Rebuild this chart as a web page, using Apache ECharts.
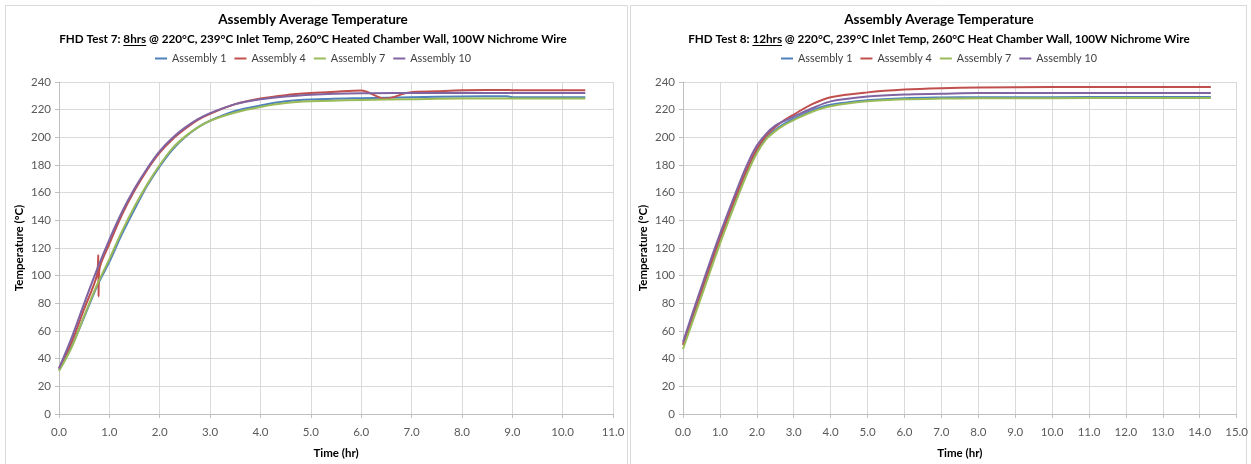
<!DOCTYPE html>
<html>
<head>
<meta charset="utf-8">
<script src="https://cdn.jsdelivr.net/npm/echarts@6/dist/echarts.min.js"></script>
<style>
  html, body { margin: 0; padding: 0; background: #fff; }
  #chart { width: 1251px; height: 464px; }
</style>
</head>
<body>
<div id="chart"></div>
<script>
// Series names and colours
const seriesNames = ['Assembly 1', 'Assembly 4', 'Assembly 7', 'Assembly 10'];
const seriesColors = ['#4F81BD', '#C0504D', '#9BBB59', '#8064A2'];

// Axis ticks
const yTicks = { min: 0, max: 240, step: 20 };
const test7XTicks = { min: 0, max: 11, step: 1 };
const test8XTicks = { min: 0, max: 15, step: 1 };

// Titles
const mainTitle = 'Assembly Average Temperature';
const test7Sub = ['FHD Test 7: ', '8hrs', ' @ 220°C, 239°C Inlet Temp, 260°C Heated Chamber Wall, 100W Nichrome Wire'];
const test8Sub = ['FHD Test 8: ', '12hrs', ' @ 220°C, 239°C Inlet Temp, 260°C Heat Chamber Wall, 100W Nichrome Wire'];

// FHD Test 7: [time (hr), temperature (°C)]
const test7A1 = [[0,32],[0.25,49],[0.5,70],[0.75,92],[1,110],[1.25,130],[1.5,148],[1.75,165],[2,179],[2.25,191],[2.5,200],[2.75,207],[3,212],[3.5,219],[4,223],[4.5,226],[5,227.3],[6,228.3],[7,229],[8,229.5],[8.9,229.7],[9,229],[10,229],[10.45,229]];
const test7A4 = [[0,33],[0.25,52],[0.5,76],[0.75,100],[0.78,115],[0.785,85],[0.8,104],[1,123],[1.25,144],[1.5,161.5],[1.75,176.5],[2,189],[2.25,198.5],[2.5,206],[2.75,212.5],[3,217],[3.5,224],[4,228],[4.5,230.5],[5,232],[5.5,233],[6,233.8],[6.47,228],[6.96,232.5],[7.5,233.3],[8,234],[8.9,234.3],[9,234],[10,234],[10.45,234]];
const test7A7 = [[0,31],[0.25,48],[0.48,69],[0.75,93],[1,112],[1.25,132],[1.5,150],[1.75,166],[2,180],[2.25,192],[2.5,200.5],[2.75,207],[3,212],[3.5,218],[4,222],[4.5,224.8],[5,226],[6,227],[7,227.5],[8,228],[9,228],[10,228],[10.45,228]];
const test7A10 = [[0,33],[0.25,55],[0.5,80],[0.75,104],[1,126],[1.25,146],[1.5,163],[1.75,177.5],[2,190],[2.25,199.5],[2.5,207],[2.75,213],[3,217.5],[3.5,224],[4,227.5],[4.5,229.5],[5,230.8],[6,231.8],[7,232],[8,232.2],[9,232],[10,232],[10.45,232]];

// FHD Test 8: [time (hr), temperature (°C)]
const test8A1 = [[0,50],[0.5,88],[1,126],[1.5,161],[1.75,177],[2,190],[2.25,199.5],[2.5,205.5],[2.75,210],[3,213.5],[3.5,219.5],[4,223.5],[5,226.8],[6,228.3],[7,228.8],[8,229],[10,229],[12,229.2],[14.3,229.2]];
const test8A4 = [[0,50],[0.5,89],[1,127],[1.5,162],[1.75,178],[2,191.5],[2.25,201],[2.5,207.5],[2.75,212.5],[3,216.5],[3.5,224],[4,229],[5,232.5],[6,234.5],[7,235.5],[8,236],[10,236.3],[12,236.3],[14.3,236.3]];
const test8A7 = [[0,47],[0.5,85],[1,123],[1.5,158],[1.75,174.5],[2,188.5],[2.25,198.5],[2.5,204.5],[2.75,209],[3,212.5],[3.5,218.5],[4,222.5],[5,226],[6,227.5],[7,228],[8,228.2],[10,228.3],[12,228.5],[14.3,228.5]];
const test8A10 = [[0,52],[0.5,92],[1,130],[1.5,165],[1.75,181],[2,194],[2.25,202.5],[2.5,208.5],[2.75,212],[3,215],[3.5,221],[4,226],[5,229.5],[6,231],[7,231.5],[8,232],[10,232],[12,232],[14.3,232]];

const test7Data = [test7A1, test7A4, test7A7, test7A10];
const test8Data = [test8A1, test8A4, test8A7, test8A10];

const FONT = 'Lato, sans-serif';
const TEXT_GRAY = '#595959';
const GRID_GRAY = '#d9d9d9';
const TITLE_SIZE = 13.5;
const SUB_SIZE = 11.7;
const LEGEND_SIZE = 10.8;

const panels = [
  { left: 59, width: 554, center: 313, sub: test7Sub, x: test7XTicks, data: test7Data },
  { left: 683, width: 554, center: 939, sub: test8Sub, x: test8XTicks, data: test8Data }
];

// Measure text with the same engine that renders it
function textWidth(str, font) {
  const t = new echarts.graphic.Text({ style: { text: str, font: font } });
  return t.getBoundingRect().width;
}

const option = {
  backgroundColor: '#fff',
  animation: false,
  textStyle: { fontFamily: FONT },
  title: [],
  legend: [],
  grid: [],
  xAxis: [],
  yAxis: [],
  series: [],
  graphic: []
};

// Panel frames
option.graphic.push(
  { type: 'rect', silent: true, shape: { x: 5.5, y: 5.5, width: 622, height: 470 }, style: { fill: 'none', stroke: GRID_GRAY, lineWidth: 1 } },
  { type: 'rect', silent: true, shape: { x: 630.5, y: 5.5, width: 616, height: 470 }, style: { fill: 'none', stroke: GRID_GRAY, lineWidth: 1 } }
);

const subFont = 'bold ' + SUB_SIZE + 'px ' + FONT;
const legendFont = LEGEND_SIZE + 'px ' + FONT;
const LEGEND_ICON_W = 12, LEGEND_GAP = 8, LEGEND_ICON_TEXT = 5;

panels.forEach((p, i) => {
  option.title.push({
    text: mainTitle,
    left: p.center,
    top: 13,
    padding: 0,
    textAlign: 'center',
    textStyle: { fontFamily: FONT, fontSize: TITLE_SIZE, fontWeight: 'bold', color: '#000' }
  });
  const subText = p.sub.join('');
  option.title.push({
    text: subText,
    left: p.center,
    top: 33.5,
    padding: 0,
    textAlign: 'center',
    textStyle: { fontFamily: FONT, fontSize: SUB_SIZE, fontWeight: 'bold', color: '#000' }
  });
  // underline beneath the run time
  const total = textWidth(subText, subFont);
  const pre = textWidth(p.sub[0], subFont);
  const run = textWidth(p.sub[1], subFont);
  const x0 = p.center - total / 2 + pre;
  option.graphic.push({
    type: 'line', silent: true,
    shape: { x1: x0, y1: 45.5, x2: x0 + run, y2: 45.5 },
    style: { stroke: '#000', lineWidth: 1 }
  });

  // legend centred over its panel
  let lw = 0;
  seriesNames.forEach((n, k) => {
    lw += LEGEND_ICON_W + LEGEND_ICON_TEXT + textWidth(n, legendFont);
    if (k > 0) lw += LEGEND_GAP;
  });
  option.legend.push({
    data: seriesNames,
    left: Math.round(p.center - lw / 2),
    top: 53,
    padding: 0,
    width: lw + 20,
    orient: 'horizontal',
    icon: 'rect',
    itemWidth: LEGEND_ICON_W,
    itemHeight: 2,
    itemGap: LEGEND_GAP,
    textStyle: { fontFamily: FONT, fontSize: LEGEND_SIZE, color: '#404040' }
  });

  option.grid.push({ left: p.left, top: 82, width: p.width, height: 333, containLabel: false });

  option.xAxis.push({
    type: 'value',
    gridIndex: i,
    min: p.x.min, max: p.x.max, interval: p.x.step,
    name: 'Time (hr)',
    nameLocation: 'middle',
    nameGap: 33,
    nameTextStyle: { fontFamily: FONT, fontSize: 11.5, fontWeight: 'bold', color: '#000' },
    axisLine: { show: true, onZero: false, lineStyle: { color: '#bfbfbf' } },
    axisTick: { show: true, inside: false, length: 4, lineStyle: { color: '#bfbfbf' } },
    axisLabel: { fontFamily: FONT, fontSize: 11.5, color: TEXT_GRAY, margin: 12, formatter: v => v.toFixed(1) },
    splitLine: { show: true, lineStyle: { color: GRID_GRAY } }
  });

  option.yAxis.push({
    type: 'value',
    gridIndex: i,
    min: yTicks.min, max: yTicks.max, interval: yTicks.step,
    name: 'Temperature (°C)',
    nameLocation: 'middle',
    nameGap: 34,
    nameRotate: 90,
    nameTextStyle: { fontFamily: FONT, fontSize: 11.5, fontWeight: 'bold', color: '#000' },
    axisLine: { show: true, lineStyle: { color: '#bfbfbf' } },
    axisTick: { show: true, inside: false, length: 4, lineStyle: { color: '#bfbfbf' } },
    axisLabel: { fontFamily: FONT, fontSize: 11.5, color: TEXT_GRAY, margin: 8 },
    splitLine: { show: true, lineStyle: { color: GRID_GRAY } }
  });

  p.data.forEach((d, k) => {
    option.series.push({
      name: seriesNames[k],
      type: 'line',
      xAxisIndex: i,
      yAxisIndex: i,
      data: d,
      showSymbol: false,
      symbol: 'none',
      smooth: 0.3,
      lineStyle: { width: 2, color: seriesColors[k] },
      itemStyle: { color: seriesColors[k] },
      z: 2 + k
    });
  });
});

const chart = echarts.init(document.getElementById('chart'), null, { renderer: 'canvas' });
chart.setOption(option);
</script>
</body>
</html>
